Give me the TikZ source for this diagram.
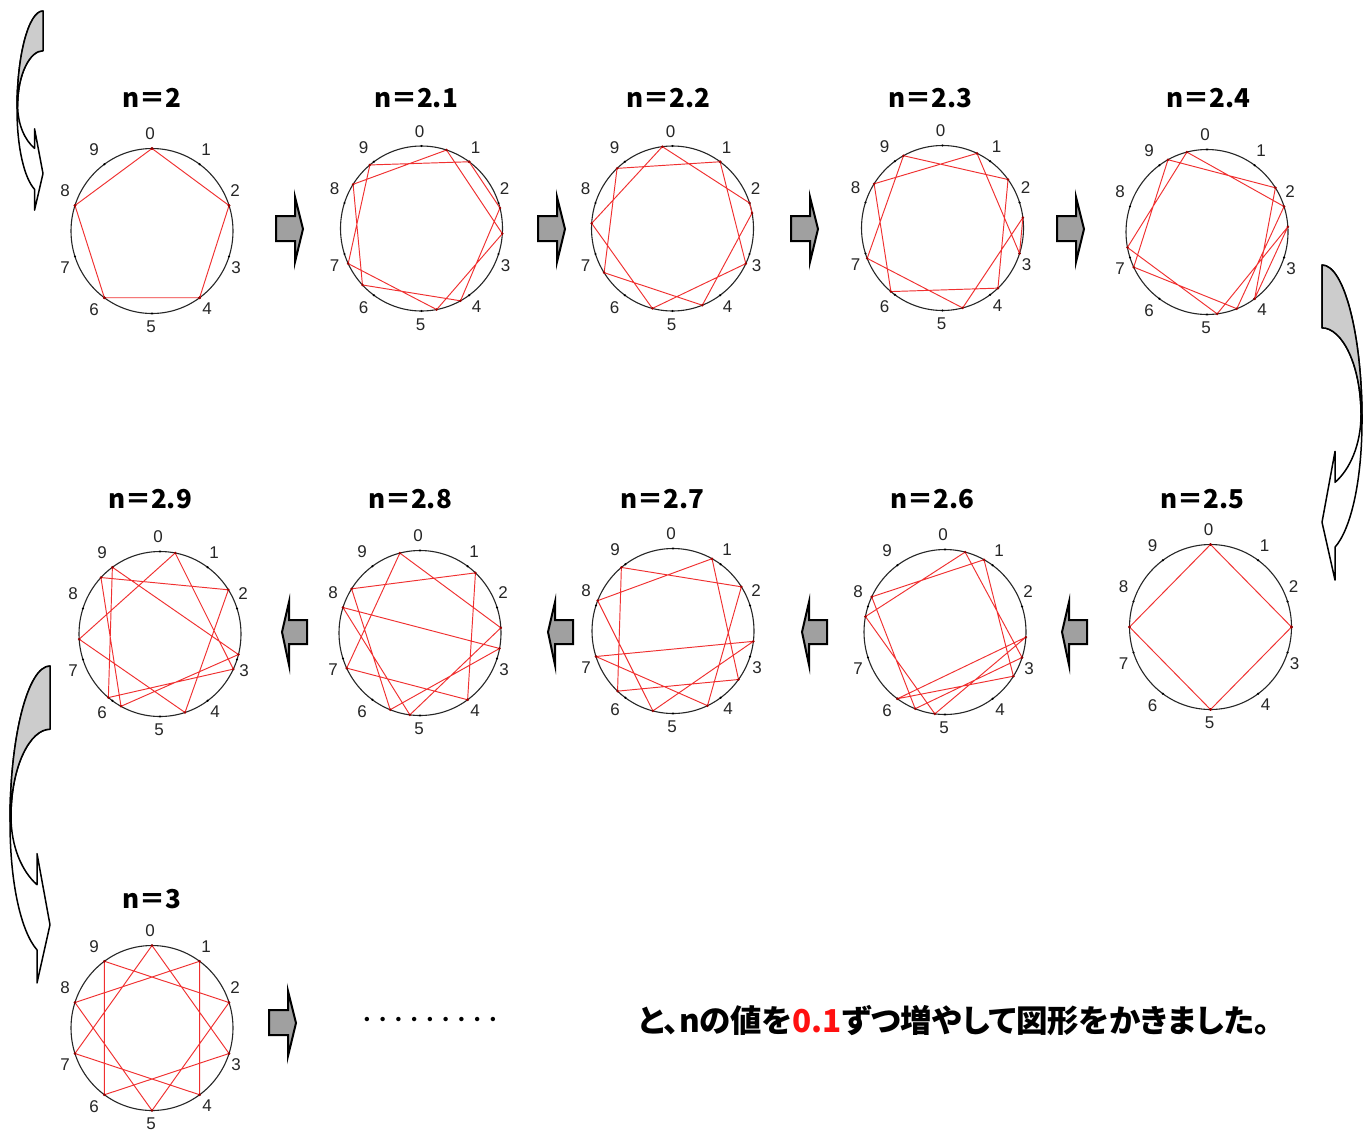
\documentclass[tikz,border=0pt]{standalone}
\usepackage{fontspec}
\setmainfont{Liberation Sans}
\newfontfamily\jp[RawFeature=+palt]{Noto Sans CJK JP}
\newfontfamily\jpw{Noto Sans CJK JP}
\definecolor{arrgray}{HTML}{A0A0A0}
\definecolor{lgray}{HTML}{CCCCCC}
\definecolor{chordred}{HTML}{F03030}
\definecolor{txtred}{HTML}{FF1010}
\tikzset{
  circ/.style={draw=black!85, line width=1.1pt},
  chord/.style={draw=chordred, line width=0.95pt, line join=round},
  title/.style={font=\jp\bfseries\fontsize{26pt}{30pt}\selectfont, inner sep=0pt, anchor=base},
  lbl/.style={font=\fontsize{17pt}{19pt}\selectfont, text=black!85, inner sep=0pt},
  blockarr/.style={fill=arrgray, draw=black, line width=2pt, line join=miter},
  curvarr/.style={draw=black, line width=1.5pt, line join=round},
}
\newcommand\onediag[7]{%
  \draw[circ] (#2,#3) ellipse [x radius=81pt, y radius=82.5pt];
  \foreach \k in {0,...,9}{
    \fill[black] ({#2+81*sin(36*\k)},{#3-82.5*cos(36*\k)}) circle[radius=1.2pt];
  }
  \draw[chord] ({#2+81*sin(36*#4)},{#3-82.5*cos(36*#4)})
     \foreach \k in {2,...,10}{ -- ({#2+81*sin(36*\k*#4)},{#3-82.5*cos(36*\k*#4)}) } -- cycle;
  \foreach \k in {1,...,10}{
    \fill[red!60!black] ({#2+81*sin(36*\k*#4)},{#3-82.5*cos(36*\k*#4)}) circle[radius=1.4pt];
  }
  \foreach \k/\dx/\dy in {0/-2/-97,1/54/-81,2/83/-40,3/84/37,4/55/78,5/-1/96,6/-58/79,7/-87/37,8/-87/-40,9/-58/-81}{
    \node[lbl] (#1-l\k) at ({#2+\dx},{#3+\dy}) {\k};
  }
  \node[title] (#1-t) at (#6,#7) {#5};
}
\newcommand\rarr[2]{%
  \draw[blockarr] ({#1-27},{#2-13}) -- ({#1-8},{#2-13}) -- ({#1-8},{#2-32}) -- (#1,#2)
    -- ({#1-8},{#2+33}) -- ({#1-8},{#2+12}) -- ({#1-27},{#2+12}) -- cycle;}
\newcommand\larr[2]{%
  \draw[blockarr] ({#1+25},{#2-12}) -- ({#1+7},{#2-12}) -- ({#1+7},{#2-30}) -- (#1,#2)
    -- ({#1+7},{#2+33}) -- ({#1+7},{#2+12}) -- ({#1+25},{#2+12}) -- cycle;}
\newcommand\curvarrow[1]{%
  \begin{scope}[#1]
  \filldraw[curvarr, fill=white] (0,0) .. controls (22,0) and (40,70) .. (40,155)
     .. controls (40,220) and (28,266) .. (13,283) -- (13,316) -- (0,258) -- (13,187) -- (13,218)
     .. controls (28,205) and (39,180) .. (39,150) .. controls (39,100) and (20,63) .. (0,63) -- cycle;
  \filldraw[curvarr, fill=lgray] (0,0) .. controls (22,0) and (40,70) .. (40,155) -- (39,150)
     .. controls (39,100) and (20,63) .. (0,63) -- cycle;
  \end{scope}}
\begin{document}
\begin{tikzpicture}[x=1pt,y=-1pt]
\fill[white] (0,0) rectangle (1372,1133);
\useasboundingbox (0,0) rectangle (1372,1133);
% row 1
\onediag{d1}{152}{231}{2}{n＝2}{152}{107}
\onediag{d2}{421.5}{228.5}{2.1}{n＝2.1}{416}{107}
\onediag{d3}{672.5}{228.5}{2.2}{n＝2.2}{668}{107}
\onediag{d4}{942.5}{228}{2.3}{n＝2.3}{930}{107}
\onediag{d5}{1207}{232}{2.4}{n＝2.4}{1208}{107}
% row 2
\onediag{d6}{1210.5}{627}{2.5}{n＝2.5}{1202}{508}
\onediag{d7}{945}{632}{2.6}{n＝2.6}{932}{508}
\onediag{d8}{673}{631}{2.7}{n＝2.7}{662}{508}
\onediag{d9}{420}{633}{2.8}{n＝2.8}{410}{508}
\onediag{d10}{160}{634}{2.9}{n＝2.9}{150}{508}
% row 3
\onediag{d11}{152}{1028}{3}{n＝3}{152}{908}
% block arrows
\rarr{303}{229}\rarr{565}{229}\rarr{818}{229}\rarr{1084}{229}
\larr{282}{632}\larr{548}{632}\larr{802}{632}\larr{1062}{632}
\rarr{296}{1023}
% curved arrows
\curvarrow{shift={(43,11)}, xscale=-0.65, yscale=0.63}
\curvarrow{shift={(1322,265)}, yscale=0.997}
\curvarrow{shift={(50,666)}, xscale=-1, yscale=1.003}
% dots and sentence
\node[font=\jpw\bfseries\fontsize{15.75pt}{18pt}\selectfont, inner sep=0pt] (dots) at (430,1021) {・・・・・・・・・};
\node[font=\jp\bfseries\fontsize{31.5pt}{36pt}\selectfont, inner sep=0pt, anchor=west] (msg) at (638,1021)
  {と、nの値を\textcolor{txtred}{0.1}ずつ増やして図形をかきました。};
\end{tikzpicture}
\end{document}
